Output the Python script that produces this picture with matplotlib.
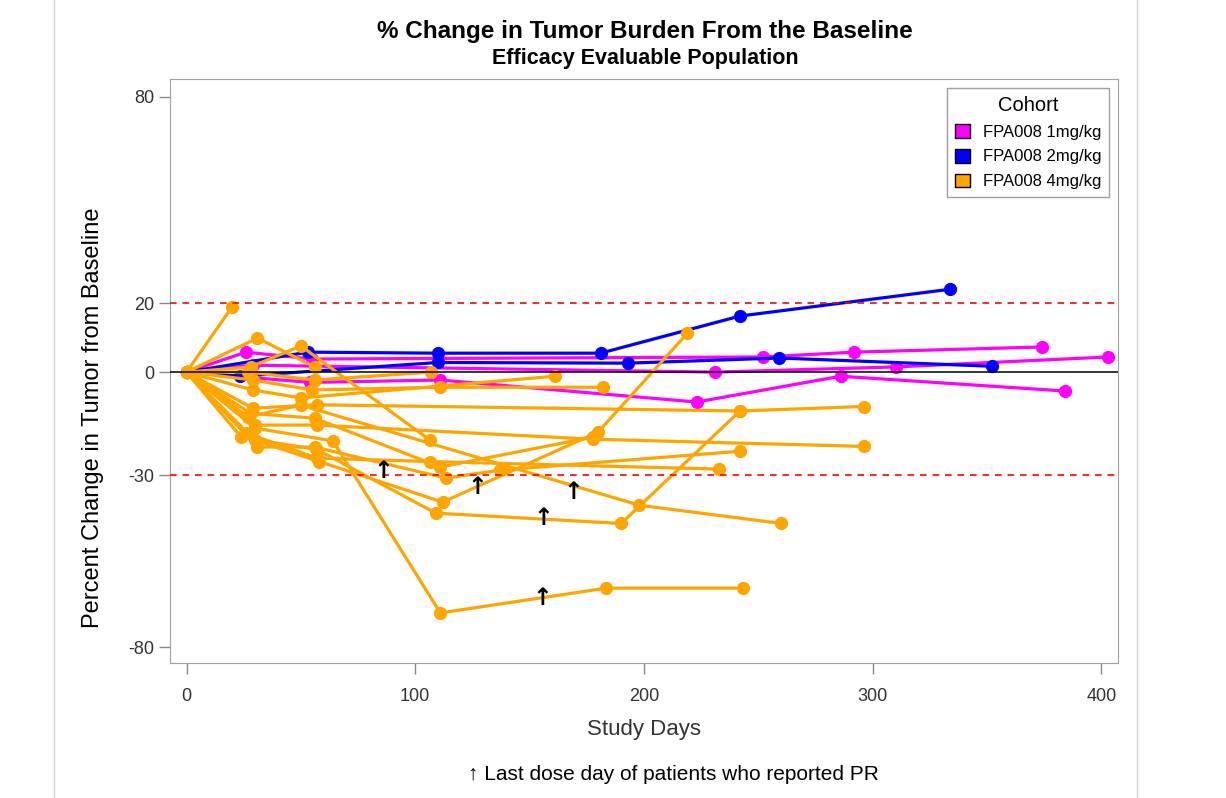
import matplotlib
matplotlib.use("Agg")
import matplotlib.pyplot as plt
from matplotlib.patches import Patch
from matplotlib.lines import Line2D

plt.rcParams["font.family"] = ["Liberation Sans", "DejaVu Sans"]
plt.rcParams["axes.unicode_minus"] = False

# cohort 1mg/kg
mag_days = [
    [0, 26, 55, 252, 292, 374],
    [0, 29, 231, 310, 403],
    [0, 54, 111, 223, 286, 384],
]
mag_pct = [
    [0, 5.8, 3.8, 4.4, 5.8, 7.3],
    [0, 2.0, 0.0, 1.5, 4.4],
    [0, -3.0, -2.3, -8.7, -1.2, -5.5],
]

# cohort 2mg/kg
blue_days = [
    [0, 53, 110, 181, 242, 334],
    [0, 23.5, 110, 193, 259, 352],
]
blue_pct = [
    [0, 5.8, 5.5, 5.5, 16.3, 24.1],
    [0, -1.2, 2.8, 2.6, 4.1, 1.7],
]

# cohort 4mg/kg
orange_days = [
    [0, 20],
    [0, 31, 56],
    [0, 28, 50, 106.5],
    [0, 27, 56, 107],
    [0, 29, 55, 111, 182],
    [0, 29, 50, 161],
    [0, 29, 57, 242, 296],
    [0, 30, 57, 177.5, 296],
    [0, 27, 50, 198, 260],
    [0, 30, 64, 111, 183.5, 243.5],
    [0, 24, 57, 109, 190, 242],
    [0, 30, 58, 112, 180, 219],
    [0, 31, 56, 113.5, 137, 242],
    [0, 26, 57, 106.5, 233],
    [0, 28, 56, 111, 177.5],
]
orange_pct = [
    [0, 19],
    [0, 9.9, 1.5],
    [0, 1.5, 7.6, -19.8],
    [0, 0, -2.3, 0],
    [0, -2.3, -5.2, -4.4, -4.4],
    [0, -5.2, -7.5, -1.2],
    [0, -10.5, -9.5, -11.3, -10],
    [0, -15.4, -15.4, -19.5, -21.6],
    [0, -13, -9.6, -38.7, -44],
    [0, -16.3, -20, -70, -62.8, -62.8],
    [0, -19, -22.5, -41, -44, -11.3],
    [0, -19.8, -26, -37.8, -17.4, 11.3],
    [0, -21.8, -21.8, -30.8, -28.5, -23],
    [0, -17.7, -25, -26, -28.2],
    [0, -12, -13.4, -27.6, -18.9],
]

# last dose day markers (PR patients)
pr_days = [86, 127, 156, 155.5, 169]
pr_pct = [-28.8, -33.4, -42.4, -65.7, -34.9]

cohorts = ["FPA008 1mg/kg", "FPA008 2mg/kg", "FPA008 4mg/kg"]
colors = ["#FF00FF", "#0000FF", "#FFA500"]

fig = plt.figure(figsize=(12.26, 7.98), dpi=100)
ax = fig.add_axes([0.1387, 0.169, 0.7733, 0.732])

for days, pct, col in [(mag_days, mag_pct, colors[0]),
                       (blue_days, blue_pct, colors[1]),
                       (orange_days, orange_pct, colors[2])]:
    for d, p in zip(days, pct):
        ax.plot(d, p, color=col, lw=2.3, marker="o", ms=8.5, zorder=2)

ax.axhline(0, color="black", lw=1.1, zorder=3)
ax.axhline(20, color="red", lw=1.2, ls=(0, (4, 3.5)), zorder=3)
ax.axhline(-30, color="red", lw=1.2, ls=(0, (4, 3.5)), zorder=3)

for d, p in zip(pr_days, pr_pct):
    ax.text(d, p, "↑", ha="center", va="center", fontsize=17,
            fontweight="bold", family="DejaVu Sans", color="black", zorder=4)

ax.set_xlim(-7.2, 407.3)
ax.set_ylim(-84.6, 85.2)
ax.set_xticks([0, 100, 200, 300, 400])
ax.set_yticks([-80, -30, 0, 20, 80])
ax.tick_params(axis="both", colors="#888888", labelcolor="#333333",
               labelsize=13, length=8, width=1)
ax.tick_params(axis="x", pad=10)
for s in ax.spines.values():
    s.set_color("#A0A0A0")

ax.set_xlabel("Study Days", fontsize=16, color="#333333", labelpad=10)
ax.set_ylabel("Percent Change in Tumor from Baseline", fontsize=17,
              color="black")
ax.yaxis.set_label_coords(-0.07, 0.42)

handles = [Patch(facecolor=c, edgecolor="black", lw=1) for c in colors]
leg = ax.legend(handles, cohorts, title="Cohort", loc="upper right",
                fontsize=12, title_fontsize=14.5, fancybox=False,
                edgecolor="#A0A0A0", framealpha=1, handlelength=0.9,
                handleheight=0.9, borderaxespad=0.55, labelspacing=0.55,
                borderpad=0.45)
leg.get_frame().set_linewidth(1)

fig.text(0.526, 0.961, "% Change in Tumor Burden From the Baseline",
         ha="center", va="center", fontsize=17.5, fontweight="bold")
fig.text(0.526, 0.927, "Efficacy Evaluable Population",
         ha="center", va="center", fontsize=15.5, fontweight="bold")
fig.text(0.549, 0.029, "↑ Last dose day of patients who reported PR",
         ha="center", va="center", fontsize=15)

fig.add_artist(Line2D([0.044, 0.044], [0, 1], color="#D0D0D0", lw=1))
fig.add_artist(Line2D([0.927, 0.927], [0, 1], color="#D0D0D0", lw=1))

fig.savefig("out.png", dpi=100)
